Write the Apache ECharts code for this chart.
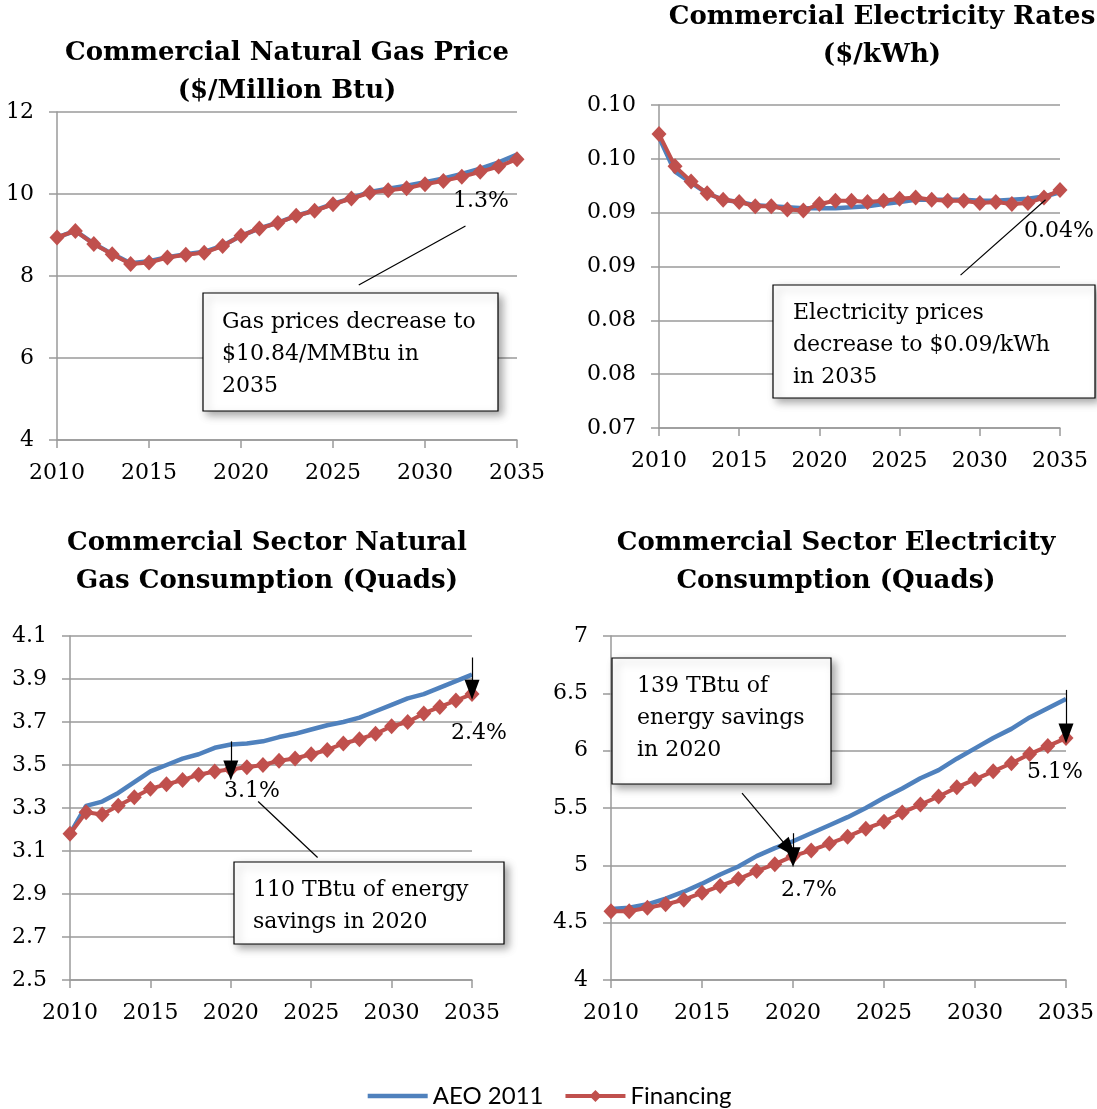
<!DOCTYPE html>
<html>
<head>
<meta charset="utf-8">
<script src="https://cdn.jsdelivr.net/npm/echarts@6/dist/echarts.min.js"></script>
<style>
  html, body { margin: 0; padding: 0; background: #fff; }
  #chart { width: 1097px; height: 1109px; }
</style>
</head>
<body>
<div id="chart"></div>
<script>
// years 2010..2035
const years = [2010, 2011, 2012, 2013, 2014, 2015, 2016, 2017, 2018, 2019, 2020, 2021, 2022,
  2023, 2024, 2025, 2026, 2027, 2028, 2029, 2030, 2031, 2032, 2033, 2034, 2035]

// Commercial natural gas price ($/Million Btu)
const gasPriceAeo = [8.94, 9.10, 8.79, 8.54, 8.31, 8.36, 8.46, 8.53, 8.59, 8.74, 8.98, 9.16, 9.30,
  9.47, 9.60, 9.76, 9.90, 10.05, 10.13, 10.20, 10.29, 10.38, 10.49, 10.62, 10.77, 10.96]
const gasPriceFin = [8.94, 9.10, 8.78, 8.53, 8.29, 8.33, 8.45, 8.52, 8.57, 8.73, 8.98, 9.16, 9.29,
  9.47, 9.59, 9.75, 9.89, 10.03, 10.09, 10.14, 10.24, 10.32, 10.42, 10.54, 10.67, 10.85]

// Commercial electricity rates ($/kWh)
const elecRateAeo = [0.0970, 0.0938, 0.0928, 0.0918, 0.0912, 0.0910, 0.0907, 0.0906, 0.0905, 0.0904,
  0.0904, 0.0904, 0.0905, 0.0906, 0.0908, 0.0910, 0.0912, 0.0912, 0.0912, 0.0912, 0.0911, 0.0911,
  0.0912, 0.0913, 0.0915, 0.0919]
const elecRateFin = [0.0973, 0.0943, 0.0929, 0.0918, 0.0912, 0.0910, 0.0906, 0.0906, 0.0903, 0.0902,
  0.0908, 0.0911, 0.0911, 0.0910, 0.0911, 0.0913, 0.0914, 0.0912, 0.0911, 0.0911, 0.0909, 0.0910,
  0.0908, 0.0909, 0.0914, 0.0921]

// Commercial sector natural gas consumption (Quads)
const gasUseAeo = [3.18, 3.31, 3.33, 3.37, 3.42, 3.47, 3.50, 3.53, 3.55, 3.58, 3.595, 3.60, 3.61,
  3.63, 3.645, 3.665, 3.685, 3.70, 3.72, 3.75, 3.78, 3.81, 3.83, 3.86, 3.89, 3.92]
const gasUseFin = [3.18, 3.28, 3.27, 3.31, 3.35, 3.39, 3.41, 3.43, 3.455, 3.47, 3.48, 3.49, 3.50,
  3.52, 3.53, 3.55, 3.57, 3.60, 3.62, 3.645, 3.68, 3.70, 3.74, 3.77, 3.80, 3.83]

// Commercial sector electricity consumption (Quads)
const elecUseAeo = [4.62, 4.63, 4.66, 4.71, 4.77, 4.84, 4.92, 4.99, 5.08, 5.15, 5.21, 5.28, 5.35,
  5.42, 5.50, 5.59, 5.67, 5.76, 5.83, 5.93, 6.02, 6.11, 6.19, 6.29, 6.37, 6.45]
const elecUseFin = [4.60, 4.60, 4.63, 4.66, 4.70, 4.76, 4.82, 4.88, 4.95, 5.01, 5.08, 5.13, 5.19,
  5.25, 5.32, 5.38, 5.46, 5.53, 5.60, 5.68, 5.75, 5.82, 5.89, 5.97, 6.04, 6.11]

const titles = [
  'Commercial Natural Gas Price\n($/Million Btu)',
  'Commercial Electricity Rates\n($/kWh)',
  'Commercial Sector Natural\nGas Consumption (Quads)',
  'Commercial Sector Electricity\nConsumption (Quads)',
]
const seriesNames = ['AEO 2011', 'Financing']

const serif = 'DejaVu Serif'
const gridColor = '#9a9a9a'
const blue = '#4F81BD'
const red = '#C0504D'

const pairs = (vals) => years.map((y, i) => [y, vals[i]])

const chartEl = document.getElementById('chart')
const myChart = echarts.init(chartEl, null, { renderer: 'canvas' })

const grids = [
  { left: 57, top: 112, width: 460, height: 328 },
  { left: 659, top: 105, width: 401, height: 323 },
  { left: 70, top: 636, width: 402, height: 344 },
  { left: 611, top: 636, width: 455, height: 344 },
]

const yRanges = [
  { min: 4, max: 12, interval: 2 },
  { min: 0.07, max: 0.10, interval: 0.005 },
  { min: 2.5, max: 4.1, interval: 0.2 },
  { min: 4, max: 7, interval: 0.5 },
]

const yFormatters = [
  (v) => String(Math.round(v)),
  (v) => (Math.round(Math.round(v * 1000) / 10 + 1e-6) / 100).toFixed(2),
  (v) => (Math.round(v * 10) / 10).toFixed(1),
  (v) => String(Math.round(v * 10) / 10),
]

const xAxes = grids.map((g, i) => ({
  type: 'value',
  gridIndex: i,
  min: 2010,
  max: 2035,
  interval: 5,
  axisLine: { lineStyle: { color: gridColor, width: 1.5 } },
  axisTick: { show: true, length: 8, lineStyle: { color: gridColor, width: 1.5 } },
  axisLabel: { color: '#000', fontFamily: serif, fontSize: 22, margin: 22, formatter: (v) => String(v) },
  splitLine: { show: false },
}))

const yAxes = grids.map((g, i) => ({
  type: 'value',
  gridIndex: i,
  min: yRanges[i].min,
  max: yRanges[i].max,
  interval: yRanges[i].interval,
  axisLine: { show: true, lineStyle: { color: gridColor, width: 1.5 } },
  axisTick: { show: true, length: 8, lineStyle: { color: gridColor, width: 1.5 } },
  axisLabel: { color: '#000', fontFamily: serif, fontSize: 22, margin: 23, formatter: yFormatters[i] },
  splitLine: { show: true, lineStyle: { color: gridColor, width: 1.5 } },
}))

const arrowLine = (from, to, head) => ([
  { coord: from, symbol: 'none' },
  { coord: to, symbol: head ? 'triangle' : 'none', symbolSize: [15, 20] },
])

// callout lines / arrows in data space per panel
const callouts = [
  [arrowLine([2026.4, 7.78], [2032.2, 9.22], false)],
  [arrowLine([2028.8, 0.0842], [2034.1, 0.0912], false)],
  [arrowLine([2025.4, 3.07], [2021.7, 3.33], false),
   arrowLine([2020, 3.61], [2020, 3.475], true),
   arrowLine([2035, 4.0], [2035, 3.85], true)],
  [arrowLine([2017.2, 5.63], [2019.8, 5.14], true),
   arrowLine([2020, 5.28], [2020, 5.07], true),
   arrowLine([2035, 6.53], [2035, 6.15], true)],
]

const dataSets = [
  [gasPriceAeo, gasPriceFin],
  [elecRateAeo, elecRateFin],
  [gasUseAeo, gasUseFin],
  [elecUseAeo, elecUseFin],
]

const series = []
dataSets.forEach((pair, i) => {
  series.push({
    name: seriesNames[0],
    type: 'line',
    xAxisIndex: i,
    yAxisIndex: i,
    symbol: 'none',
    lineStyle: { color: blue, width: 4.5 },
    itemStyle: { color: blue },
    data: pairs(pair[0]),
    z: 2,
  })
  series.push({
    name: seriesNames[1],
    type: 'line',
    xAxisIndex: i,
    yAxisIndex: i,
    symbol: 'diamond',
    symbolSize: [15, 16],
    lineStyle: { color: red, width: 4 },
    itemStyle: { color: red },
    data: pairs(pair[1]),
    z: 3,
    markLine: {
      silent: true,
      animation: false,
      label: { show: false },
      lineStyle: { color: '#000', width: 1.2, type: 'solid' },
      data: callouts[i],
    },
  })
})

const titleCenters = [
  { x: 282, top: 29 },
  { x: 877, top: -7 },
  { x: 262, top: 519 },
  { x: 831, top: 519 },
]

// annotation boxes and labels
const boxes = [
  { x: 203, y: 293, w: 295, h: 118, tx: 222, ty: 306, text: 'Gas prices decrease to\n$10.84/MMBtu in\n2035' },
  { x: 773, y: 285, w: 322, h: 113, tx: 793, ty: 297, text: 'Electricity prices\ndecrease to $0.09/kWh\nin 2035' },
  { x: 234, y: 862, w: 270, h: 82, tx: 253, ty: 874, text: '110 TBtu of energy\nsavings in 2020' },
  { x: 612, y: 658, w: 219, h: 126, tx: 637, ty: 670, text: '139 TBtu of\nenergy savings\nin 2020' },
]
const pctLabels = [
  { x: 453, y: 201, text: '1.3%' },
  { x: 1024, y: 231, text: '0.04%' },
  { x: 224, y: 791, text: '3.1%' },
  { x: 451, y: 733, text: '2.4%' },
  { x: 781, y: 890, text: '2.7%' },
  { x: 1027, y: 772, text: '5.1%' },
]

const graphic = []
boxes.forEach((b) => {
  graphic.push({
    type: 'rect',
    shape: { x: b.x, y: b.y, width: b.w, height: b.h },
    style: {
      fill: '#fff', stroke: '#000', lineWidth: 1.2,
      shadowBlur: 8, shadowOffsetX: 4, shadowOffsetY: 4, shadowColor: 'rgba(0,0,0,0.35)',
    },
    z: 100,
  })
  graphic.push({
    type: 'text',
    style: {
      x: b.tx, y: b.ty, text: b.text, fill: '#000',
      font: '22px "DejaVu Serif"', lineHeight: 32, verticalAlign: 'top',
    },
    z: 101,
  })
})
pctLabels.forEach((p) => {
  graphic.push({
    type: 'text',
    style: {
      x: p.x, y: p.y, text: p.text, fill: '#000',
      font: '22px "DejaVu Serif"', verticalAlign: 'middle',
    },
    z: 101,
  })
})

const option = {
  animation: false,
  backgroundColor: '#fff',
  title: titles.map((t, i) => ({
    text: t,
    left: titleCenters[i].x,
    top: titleCenters[i].top,
    textAlign: 'center',
    textStyle: { fontFamily: serif, fontWeight: 'bold', fontSize: 26, lineHeight: 38, color: '#000' },
  })),
  legend: {
    top: 1084,
    left: 'center',
    padding: 0,
    itemWidth: 60,
    itemHeight: 15,
    itemGap: 20,
    data: [
      { name: seriesNames[0], itemStyle: { opacity: 0 }, lineStyle: { width: 4.5 } },
      { name: seriesNames[1], lineStyle: { width: 4 } },
    ],
    textStyle: { fontFamily: 'Lato', fontSize: 24, color: '#000' },
  },
  grid: grids,
  xAxis: xAxes,
  yAxis: yAxes,
  series: series,
  graphic: graphic,
}

myChart.setOption(option)

window.addEventListener('resize', function () {
  myChart && myChart.resize()
})
</script>
</body>
</html>
